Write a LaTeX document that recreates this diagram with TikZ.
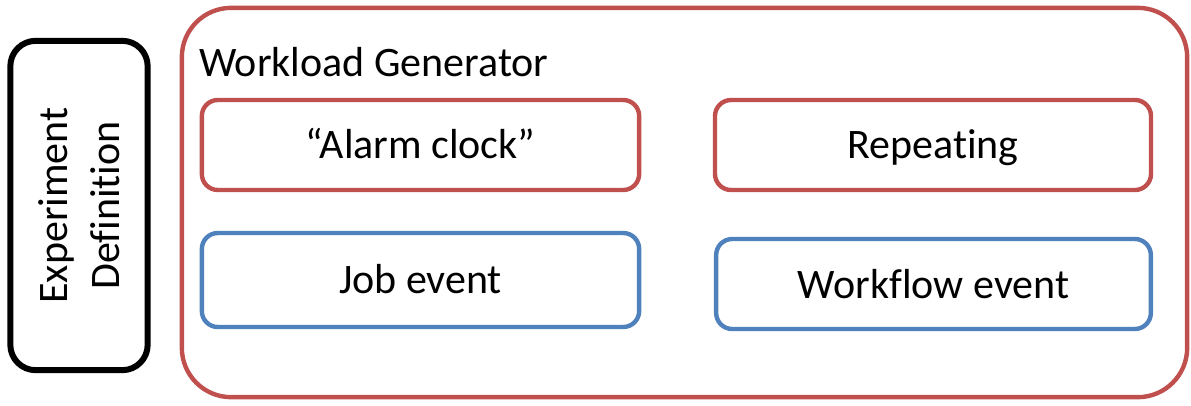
\documentclass[tikz,border=0pt]{standalone}
\usepackage{fontspec}
\setmainfont{Carlito}[Ligatures=NoCommon, Contextuals=NoAlternate]
\usetikzlibrary{positioning}
\definecolor{boxred}{HTML}{C0504D}
\definecolor{boxblue}{HTML}{4F81BD}
\tikzset{
	every node/.style={font=\fontsize{31.5}{39}\selectfont, inner sep=0pt},
	panel/.style={draw, rectangle, rounded corners=12pt, line width=3.3pt, text=black, text height=20pt, text depth=0pt},
	redbox/.style={panel, draw=boxred},
	bluebox/.style={panel, draw=boxblue},
	defbox/.style={draw=black, rectangle, rounded corners=19pt, line width=4.5pt},
}
\begin{document}
\begin{tikzpicture}[x=0.75pt, y=-0.75pt]
	\useasboundingbox (0,0) rectangle (1191,405);

% DEFINITION
	\node[defbox, minimum width=103pt, minimum height=247pt] (defn) at (79,205.5) {};
	\node[rotate=90, align=center] (defntext) at (defn.center) {Experiment\\Definition};

% GENERATOR
	\node[draw=boxred, rectangle, rounded corners=37pt, line width=3.3pt, minimum width=754pt, minimum height=292pt] (gen) at (684.5,202.5) {};
	\node[anchor=base west] (gentitle) at (199,76) {Workload Generator};

	% triggers
	\node[redbox, minimum width=328pt, minimum height=67.5pt] (alarm) at (420.5,145) {“Alarm clock”};
	\node[redbox, minimum width=327pt, minimum height=67.5pt] (repeat) at (933,145) {Repeating};

	% events
	\node[bluebox, minimum width=328pt, minimum height=70.5pt] (job) at (420.5,280) {Job event};
	\node[bluebox, minimum width=326pt, minimum height=67.5pt, text height=21pt] (workflow) at (933.5,284) {Workflow event};
\end{tikzpicture}
\end{document}
